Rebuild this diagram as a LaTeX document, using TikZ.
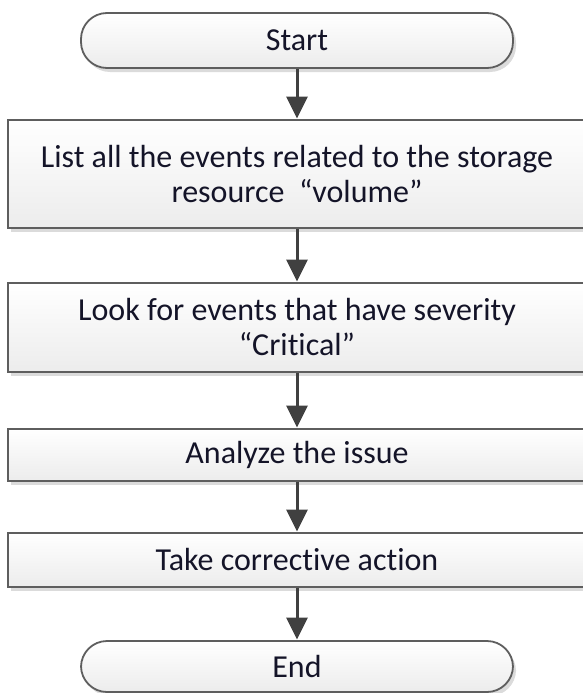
\documentclass[tikz,border=0pt]{standalone}
\usepackage{fontspec}
\setmainfont[Ligatures={NoCommon}]{Carlito}
\usetikzlibrary{arrows.meta,shadows}
\definecolor{edgegray}{HTML}{5E5E5E}
\definecolor{arrgray}{HTML}{404040}
\definecolor{txt}{HTML}{141428}
\definecolor{fillbot}{HTML}{ECECEC}
\tikzset{
  x=1pt, y=-1pt,
  base/.style={draw=edgegray, line width=1.8pt, top color=white, bottom color=fillbot,
    text=txt, align=center, inner sep=0pt,
    font=\fontsize{32}{35}\selectfont,
    drop shadow={shadow xshift=3pt, shadow yshift=-4pt, fill=black!14, opacity=1}},
  term/.style={base, rounded corners=26pt, minimum width=432pt},
  stepbox/.style={base, minimum width=578pt},
  arr/.style={draw=arrgray, line width=3pt, -{Triangle[width=21pt,length=22pt]}, shorten >=0.5pt}
}
\begin{document}
\begin{tikzpicture}
\useasboundingbox (0,0) rectangle (582,693);
\node[term, minimum height=55pt] (start) at (297,40.5) {Start};
\node[stepbox, minimum height=108pt] (list) at (297,174) {List all the events related to the storage\\resource\ \ “volume”};
\node[stepbox, minimum height=89pt] (look) at (297,327.5) {Look for events that have severity\\“Critical”};
\node[stepbox, minimum height=52pt] (anal) at (297,455) {Analyze the issue};
\node[stepbox, minimum height=54pt] (take) at (297,560) {Take corrective action};
\node[term, minimum height=51pt] (end) at (297,666.5) {End};
\draw[arr] (start) -- (list);
\draw[arr] (list) -- (look);
\draw[arr] (look) -- (anal);
\draw[arr] (anal) -- (take);
\draw[arr] (take) -- (end);
\end{tikzpicture}
\end{document}
